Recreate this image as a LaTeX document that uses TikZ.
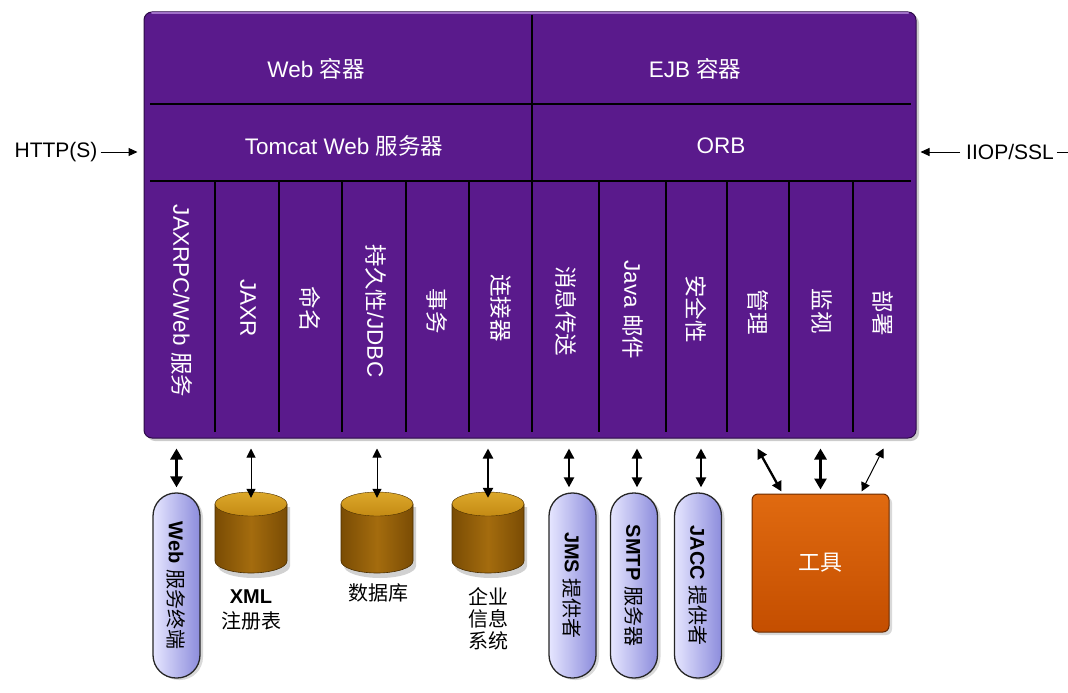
\documentclass[tikz,border=0pt]{standalone}
\usepackage{fontspec}
\setmainfont{Liberation Sans}
\newfontfamily\cjk{Noto Sans CJK SC}
\usetikzlibrary{arrows.meta,shadows,calc}
\newcommand\zhs[1]{{\cjk #1}}
\newcommand\zhm[1]{{\cjk\mdseries #1}}
\definecolor{purp}{HTML}{5A1A8C}
\definecolor{purpD}{HTML}{2C0A48}
\definecolor{purpL}{HTML}{A070C8}
\definecolor{lavL}{HTML}{E6E6FF}
\definecolor{lav}{HTML}{ABABF6}
\definecolor{lavD}{HTML}{8C8CDC}
\definecolor{cylD}{HTML}{7A4C04}
\definecolor{cylM}{HTML}{A46C0E}
\definecolor{cylT1}{HTML}{C48A14}
\definecolor{cylT2}{HTML}{DCA82A}
\definecolor{cylE}{HTML}{4A2E00}
\definecolor{orT}{HTML}{E06A10}
\definecolor{orB}{HTML}{C44E00}
\definecolor{orE}{HTML}{6A2A00}
\newcommand\dbcyl[2]{%
  \node[inner sep=0pt, minimum width=72pt, minimum height=81pt] (#2) at (#1,532.5) {};
  \fill[black, opacity=.18] (#1-33,507) -- (#1-33,566) arc[start angle=180,end angle=360,x radius=36pt,y radius=12pt] -- (#1+39,507) -- cycle;
  \path[draw=cylE, line width=.6pt, left color=cylD, right color=cylD, middle color=cylM]
    (#1-36,504) -- (#1-36,561) arc[start angle=180,end angle=360,x radius=36pt,y radius=12pt] -- (#1+36,504) -- cycle;
  \path[top color=cylT2, bottom color=cylT1, draw=cylE, line width=.4pt]
    (#1,504) ellipse[x radius=36pt, y radius=12pt];
}
\tikzset{
  wt/.style={text=white, font=\fontsize{22.5}{26}\selectfont, inner sep=0pt},
  col/.style={wt, rotate=-90},
  blk/.style={text=black, font=\fontsize{20}{23}\selectfont, inner sep=0pt},
  side/.style={text=black, font=\fontsize{21}{24}\selectfont, inner sep=0pt},
  pilltxt/.style={text=black, font=\bfseries\fontsize{20}{23}\selectfont, inner sep=0pt, rotate=-90},
  div/.style={line width=2.2pt, black},
  mainbox/.style={minimum width=772pt, minimum height=426pt, rounded corners=8pt,
    fill=purp, draw=purpD, line width=1pt, inner sep=0pt,
    drop shadow={shadow xshift=3pt, shadow yshift=-3pt, opacity=.4}},
  pill/.style={minimum width=47pt, minimum height=185pt, rounded corners=23pt, inner sep=0pt,
    draw=black!85, line width=1.3pt, left color=lavL, middle color=lav, right color=lavD,
    drop shadow={shadow xshift=3pt, shadow yshift=-2pt, opacity=.3}},
  toolbox/.style={minimum width=137pt, minimum height=138pt, rounded corners=6pt, inner sep=0pt,
    top color=orT, bottom color=orB, draw=orE, line width=1pt, text=white,
    font=\fontsize{22}{26}\selectfont,
    drop shadow={shadow xshift=3pt, shadow yshift=-3pt, opacity=.3}},
  dblthick/.style={{Triangle[length=11pt,width=12pt]}-{Triangle[length=11pt,width=12pt]}, line width=3.2pt},
  dblmid/.style={{Triangle[length=10pt,width=10pt]}-{Triangle[length=10pt,width=10pt]}, line width=2.3pt},
  dblthin/.style={{Triangle[length=9pt,width=9pt]}-{Triangle[length=9pt,width=9pt]}, line width=1pt},
  sidearr/.style={-{Triangle[length=9pt,width=8pt]}, line width=1pt},
}
\begin{document}
\begin{tikzpicture}[x=1pt,y=-1pt]
\useasboundingbox (0,0) rectangle (1068,693);

% main box
\node[mainbox] (main) at (530,225) {};
\draw[purpL, line width=2pt, line cap=round] (152,13.5) -- (908,13.5);
\draw[div] (150,104) -- (911,104);
\draw[div] (150,181) -- (911,181);
\draw[div] (532,15) -- (532,432);
\foreach \x in {215,279,342,406,469,599,666,727,789,853}
  \draw[div] (\x,181) -- (\x,432);

\node[wt] (webc) at (316,69) {Web \zhs{容器}};
\node[wt] (ejbc) at (695,69) {EJB \zhs{容器}};
\node[wt] (tomcat) at (344,146) {Tomcat Web \zhs{服务器}};
\node[wt] (orb) at (721,146) {ORB};

\node[col] (c1) at (182,301) {JAXRPC/Web \zhs{服务}};
\node[col] (c2) at (248,308) {JAXR};
\node[col] (c3) at (310,309) {\zhs{命名}};
\node[col] (c4) at (376,311) {\zhs{持久性}/JDBC};
\node[col] (c5) at (437,311) {\zhs{事务}};
\node[col] (c6) at (501,308) {\zhs{连接器}};
\node[col] (c7) at (566,311) {\zhs{消息传送}};
\node[col] (c8) at (633,310) {Java \zhs{邮件}};
\node[col] (c9) at (696,309) {\zhs{安全性}};
\node[col] (c10) at (758,312) {\zhs{管理}};
\node[col] (c11) at (822,311) {\zhs{监视}};
\node[col] (c12) at (883,313) {\zhs{部署}};

% side labels
\node[side] (http) at (56,152) {HTTP(S)};
\node[side] (iiop) at (1010,152) {IIOP/SSL};
\coordinate (edge) at (1068,152);
\draw[sidearr, shorten >=6pt] (http.east) ++(3,0) -- (http.east -| main.west);
\draw[sidearr, shorten >=4pt] (iiop.west) ++(-6,0) -- (iiop.west -| main.east);
\draw[line width=1pt] (iiop.east) ++(3,0) -- (edge);

% bottom components
\node[pill] (web) at (176.5,585.5) {};
\node[pilltxt] at (web) {Web \zhm{服务终端}};
\node[pill] (jms) at (572.5,585.5) {};
\node[pilltxt] at (jms) {JMS \zhm{提供者}};
\node[pill] (smtp) at (634,585.5) {};
\node[pilltxt] at (smtp) {SMTP \zhm{服务器}};
\node[pill] (jacc) at (698,585.5) {};
\node[pilltxt] at (jacc) {JACC \zhm{提供者}};

\dbcyl{251}{xml}
\dbcyl{377}{db}
\dbcyl{488}{eis}

\node[blk, font=\bfseries\fontsize{20}{23}\selectfont] (xmll) at (251,597) {XML};
\node[blk] (xmll2) at (251,621) {\zhs{注册表}};
\node[blk] (dbl) at (378,593) {\zhs{数据库}};
\node[blk] (eis1) at (488,597) {\zhs{企业}};
\node[blk] (eis2) at (488,619) {\zhs{信息}};
\node[blk] (eis3) at (488,641) {\zhs{系统}};

\node[toolbox] (tool) at (820.5,563) {\zhs{工具}};

% connectors
\draw[dblthick, shorten <=10pt, shorten >=5pt] (web.north |- main.south) -- (web.north);
\draw[dblthin, shorten <=10pt] (xml.north |- main.south) -- ($(xml.north)+(0,6)$);
\draw[dblthin, shorten <=10pt] (db.north |- main.south) -- ($(db.north)+(0,6)$);
\draw[dblmid, shorten <=10pt] (eis.north |- main.south) -- ($(eis.north)+(0,6)$);
\draw[dblmid, shorten <=10pt, shorten >=5pt] ($(jms.north |- main.south)+(-3.5,0)$) -- ($(jms.north)+(-3.5,0)$);
\draw[dblmid, shorten <=10pt, shorten >=5pt] ($(smtp.north |- main.south)+(3,0)$) -- ($(smtp.north)+(3,0)$);
\draw[dblmid, shorten <=10pt, shorten >=5pt] ($(jacc.north |- main.south)+(3,0)$) -- ($(jacc.north)+(3,0)$);
\coordinate (ta) at ($(main.south west)+(614,10)$);
\coordinate (tc) at ($(main.south west)+(740,10)$);
\draw[dblmid] (ta) -- ($(tool.north west)+(30,-2)$);
\draw[dblthick, shorten <=10pt, shorten >=4pt] (tool.north |- main.south) -- (tool.north);
\draw[dblthin] (tc) -- ($(tool.north east)+(-28,-2)$);
\end{tikzpicture}
\end{document}
